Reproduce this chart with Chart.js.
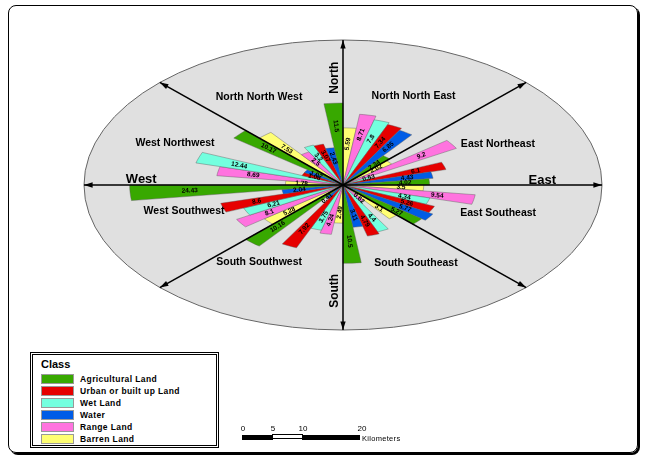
<!DOCTYPE html>
<html>
<head>
<meta charset="utf-8">
<script src="https://cdn.jsdelivr.net/npm/chart.js@4.4.1/dist/chart.umd.min.js"></script>
<style>
  html, body { margin: 0; padding: 0; background: #fff; }
  #wrap { position: relative; width: 645px; height: 459px; overflow: hidden; font-family: "Liberation Sans", Arial, sans-serif; }
  #frame { position: absolute; left: 8px; top: 5px; width: 630px; height: 448px; box-sizing: border-box;
           border: 1px solid #000; border-radius: 8px; box-shadow: 2px 2px 0 #000; }
  #rose { position: absolute; left: 0; top: 0; }
  #legend { position: absolute; left: 30px; top: 352px; width: 189px; height: 96px; box-sizing: border-box;
            border: 3px double #000; background: #fff; }
  #legend .ttl { position: absolute; left: 8px; top: 3px; font-weight: bold; font-size: 11px; }
  #legend .row { position: absolute; left: 8px; height: 10px; line-height: 10px; font-size: 8.5px; font-weight: bold; letter-spacing: 0.4px; white-space: nowrap; }
  #legend .sw { display: inline-block; width: 31px; height: 8px; border: 1px solid #999; vertical-align: middle; margin-right: 6px; }
  #legend .row span { vertical-align: middle; }
  #scalebar { position: absolute; left: 242px; top: 424px; width: 170px; height: 24px; font-size: 8px; }
  #scalebar .n { position: absolute; top: 0; transform: translateX(-50%); }
  #scalebar .bar { position: absolute; top: 11px; height: 5px; border: 1px solid #000; box-sizing: border-box; }
  #scalebar .km { position: absolute; left: 120px; top: 10px; font-size: 7.5px; letter-spacing: 0.3px; }
</style>
</head>
<body>
<div id="wrap">
  <div id="frame"></div>
  <canvas id="rose" width="645" height="459"></canvas>
  <div id="legend"><div class="ttl">Class</div></div>
  <div id="scalebar">
    <div class="n" style="left:1px">0</div>
    <div class="n" style="left:31px">5</div>
    <div class="n" style="left:61px">10</div>
    <div class="n" style="left:120px">20</div>
    <div class="bar" style="left:0;width:31px;background:#000"></div>
    <div class="bar" style="left:30px;width:31px;background:#fff;top:10px"></div>
    <div class="bar" style="left:60px;width:58px;background:#000"></div>
    <div class="km">Kilometers</div>
  </div>
</div>
<script>
const sectors = ['North Northeast', 'East Northeast', 'East Southeast', 'South Southeast',
                 'South Southwest', 'West Southwest', 'West Northwest', 'North Northwest'];
const classes = ['Agricultural Land', 'Urban or built up Land', 'Wet Land', 'Water', 'Range Land', 'Barren Land'];
const classColors = ['#38a800', '#e60000', '#73ffdf', '#005ce6', '#ff73df', '#ffff73'];

// values per sector (same order as sectors)
const agricultural = [2.34, 4.02, 5.27, 10.5, 10.16, 24.43, 10.17, 11.5];
const urban        = [7.34, 6.1, 5.26, 4.79, 7.92, 8.6, 1.06, 3.07];
const wetLand      = [7.8, 0.53, 4.34, 4.4, 3.75, 6.21, 12.44, 3.2];
const water        = [6.85, 4.43, 5.77, 3.11, 0.41, 2.04, 1.07, 2.43];
const rangeLand    = [8.71, 9.2, 9.54, 0.62, 4.24, 8.1, 8.69, 2.5];
const barren       = [5.59, 2.02, 3.5, 3.1, 2.49, 5.28, 1.78, 7.53];

const classValues = [agricultural, urban, wetLand, water, rangeLand, barren];
// clockwise order of the wedges inside one sector: barren, range, wet, urban, water, agricultural
const wedgeOrder = [5, 4, 2, 1, 3, 0];

const values = [], colors = [], labels = [];
sectors.forEach((s, i) => {
  wedgeOrder.forEach(c => {
    values.push(classValues[c][i]);
    colors.push(classColors[c]);
    labels.push(s + ' - ' + classes[c]);
  });
});

// legend
const legend = document.getElementById('legend');
classes.forEach((c, i) => {
  const row = document.createElement('div');
  row.className = 'row';
  row.style.top = (18 + i * 12) + 'px';
  row.innerHTML = '<i class="sw" style="background:' + classColors[i] + '"></i><span>' + c + '</span>';
  legend.appendChild(row);
});

// area-true rose: radius grows with sqrt of the value
class SqrtRadialScale extends Chart.RadialLinearScale {
  getDistanceFromCenterForValue(value) {
    if (value === null || isNaN(value)) return NaN;
    return this.drawingArea * Math.sqrt(Math.max(value, 0) / this.max);
  }
}
SqrtRadialScale.id = 'sqrtRadial';
Chart.register(SqrtRadialScale);

const STRETCH = 259 / 145;

const compassLabels = [
  { text: 'North North West', angle: 332, frac: 0.69, size: 10.5 },
  { text: 'North North East', angle: 24, frac: 0.67, size: 10.5 },
  { text: 'West Northwest', angle: 294, frac: 0.71, size: 10.5 },
  { text: 'East Northeast', angle: 65, frac: 0.66, size: 10.5 },
  { text: 'West', angle: 273, frac: 0.78, size: 13 },
  { text: 'East', angle: 87.5, frac: 0.77, size: 13 },
  { text: 'West Southwest', angle: 253.5, frac: 0.64, size: 10.5 },
  { text: 'East Southeast', angle: 108, frac: 0.63, size: 10.5 },
  { text: 'South Southwest', angle: 211.5, frac: 0.62, size: 10.5 },
  { text: 'South Southeast', angle: 152.5, frac: 0.61, size: 10.5 }
];

const roseFrame = {
  id: 'roseFrame',
  beforeDatasetsDraw(chart) {
    const r = chart.scales.r, ctx = chart.ctx;
    const cx = r.xCenter, cy = r.yCenter, R = r.drawingArea;
    ctx.save();
    ctx.beginPath();
    ctx.ellipse(cx, cy, R * STRETCH, R, 0, 0, Math.PI * 2);
    ctx.fillStyle = '#e0e0e0';
    ctx.fill();
    ctx.lineWidth = 1;
    ctx.strokeStyle = '#666';
    ctx.stroke();
    ctx.restore();
    // squash the circular polar area into the ellipse
    ctx.save();
    ctx.translate(cx, cy);
    ctx.scale(STRETCH, 1);
    ctx.translate(-cx, -cy);
  },
  afterDatasetsDraw(chart) {
    const ctx = chart.ctx;
    ctx.restore();
    const r = chart.scales.r;
    const cx = r.xCenter, cy = r.yCenter, R = r.drawingArea;

    // direction lines with arrows
    ctx.save();
    ctx.strokeStyle = '#000';
    ctx.fillStyle = '#000';
    ctx.lineWidth = 1.5;
    for (let k = 0; k < 8; k++) {
      const a = k * Math.PI / 4;
      const ex = cx + STRETCH * R * Math.sin(a), ey = cy - R * Math.cos(a);
      ctx.beginPath();
      ctx.moveTo(cx, cy);
      ctx.lineTo(ex, ey);
      ctx.stroke();
      const ang = Math.atan2(ey - cy, ex - cx);
      ctx.beginPath();
      ctx.moveTo(ex, ey);
      ctx.lineTo(ex - 9 * Math.cos(ang - 0.3), ey - 9 * Math.sin(ang - 0.3));
      ctx.lineTo(ex - 9 * Math.cos(ang + 0.3), ey - 9 * Math.sin(ang + 0.3));
      ctx.closePath();
      ctx.fill();
    }
    ctx.restore();

    // values on the wedges
    const meta = chart.getDatasetMeta(0);
    ctx.save();
    ctx.fillStyle = '#000';
    ctx.font = 'bold 6.5px "Liberation Sans", Arial, sans-serif';
    ctx.textAlign = 'center';
    ctx.textBaseline = 'middle';
    meta.data.forEach((el, i) => {
      const mid = (el.startAngle + el.endAngle) / 2;
      const rr = Math.max(el.outerRadius * 0.72, 16);
      const x = cx + STRETCH * Math.cos(mid) * rr, y = cy + Math.sin(mid) * rr;
      let rot = Math.atan2(Math.sin(mid), STRETCH * Math.cos(mid));
      if (Math.cos(rot) < -0.02) rot += Math.PI;
      ctx.save();
      ctx.translate(x, y);
      ctx.rotate(rot);
      ctx.fillText(String(values[i]), 0, 0);
      ctx.restore();
    });
    ctx.restore();

    // compass names
    ctx.save();
    ctx.fillStyle = '#000';
    ctx.textAlign = 'center';
    ctx.textBaseline = 'middle';
    compassLabels.forEach(l => {
      const a = l.angle * Math.PI / 180;
      ctx.font = 'bold ' + l.size + 'px "Liberation Sans", Arial, sans-serif';
      ctx.fillText(l.text, cx + STRETCH * R * l.frac * Math.sin(a), cy - R * l.frac * Math.cos(a));
    });
    ctx.font = 'bold 12px "Liberation Sans", Arial, sans-serif';
    [['North', -0.74], ['South', 0.73]].forEach(([t, f]) => {
      ctx.save();
      ctx.translate(cx - 8, cy + R * f);
      ctx.rotate(-Math.PI / 2);
      ctx.fillText(t, 0, 0);
      ctx.restore();
    });
    ctx.restore();
  }
};

new Chart(document.getElementById('rose'), {
  type: 'polarArea',
  data: {
    labels: labels,
    datasets: [{
      data: values,
      backgroundColor: colors,
      borderColor: 'rgba(90,90,90,0.6)',
      borderWidth: 0.5,
      clip: false
    }]
  },
  options: {
    responsive: false,
    animation: false,
    layout: { padding: { left: 84, right: 43, top: 40, bottom: 129 } },
    plugins: {
      legend: { display: false },
      tooltip: { enabled: false }
    },
    scales: {
      r: {
        type: 'sqrtRadial',
        display: false,
        min: 0,
        max: 36,
        startAngle: 0,
        ticks: { display: false },
        pointLabels: { display: false },
        angleLines: { display: false }
      }
    }
  },
  plugins: [roseFrame]
});
</script>
</body>
</html>
